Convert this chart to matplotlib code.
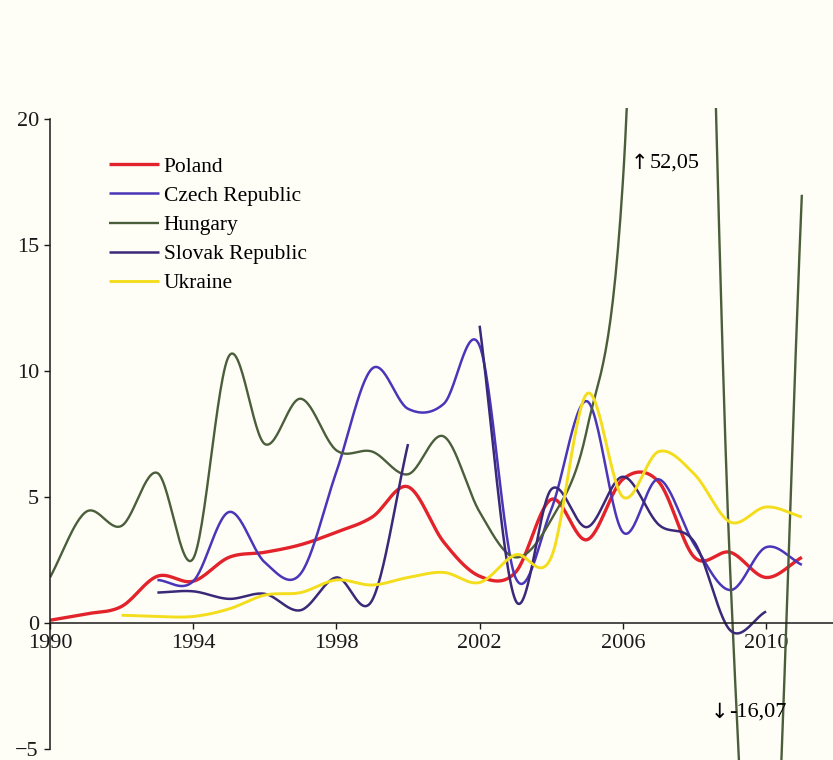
import matplotlib
matplotlib.use('Agg')
import matplotlib.pyplot as plt
import numpy as np

plt.rcParams['font.family'] = ['Liberation Serif', 'DejaVu Serif']

years = np.arange(1990, 2012)
nan = np.nan

# FDI values (% of GDP)
poland = [0.1, 0.35, 0.65, 1.85, 1.65, 2.6, 2.8, 3.1, 3.6, 4.2, 5.4,
          3.2, 1.85, 2.0, 4.9, 3.3, 5.7, 5.6, 2.6, 2.8, 1.8, 2.6]
czech = [nan, nan, nan, 1.7, 1.65, 4.4, 2.4, 1.95, 6.0, 10.1, 8.5,
         8.7, 11.0, 1.8, 4.5, 8.8, 3.6, 5.7, 3.1, 1.3, 3.0, 2.3]
hungary = [1.8, 4.4, 3.85, 5.95, 2.55, 10.6, 7.1, 8.9, 6.85, 6.8, 5.9,
           7.4, 4.4, 2.6, 4.1, 7.7, 17.5, 52.05, 48.0, 2.0, -16.07, 17.0]
slovak = [nan, nan, nan, 1.2, 1.25, 0.95, 1.15, 0.5, 1.8, 0.9, 7.1,
          nan, 11.8, 0.9, 5.3, 3.8, 5.8, 3.9, 3.2, -0.3, 0.45, nan]
ukraine = [nan, nan, 0.3, 0.25, 0.25, 0.55, 1.1, 1.2, 1.7, 1.5, 1.8,
           2.0, 1.6, 2.7, 2.6, 9.1, 5.0, 6.8, 5.9, 4.0, 4.6, 4.2]

names = ['Poland', 'Czech Republic', 'Hungary', 'Slovak Republic', 'Ukraine']
colors = ['#e3232b', '#4a36b8', '#4b5e3b', '#3b2878', '#f3dd1c']
widths = [2.4, 1.8, 1.7, 1.8, 2.1]


def smooth(x, y, n=30):
    # Catmull-Rom curve through the yearly values, segment by segment
    x = np.asarray(x, float)
    y = np.asarray(y, float)
    ok = ~np.isnan(y)
    out_x, out_y = [], []
    i = 0
    while i < len(y):
        if not ok[i]:
            i += 1
            continue
        j = i
        while j < len(y) and ok[j]:
            j += 1
        px, py = x[i:j], y[i:j]
        if len(py) > 1:
            ext = np.concatenate([[2 * py[0] - py[1]], py, [2 * py[-1] - py[-2]]])
            m = (ext[2:] - ext[:-2]) / 2
            for k in range(len(py) - 1):
                t = np.linspace(0, 1, n)
                h00 = 2 * t**3 - 3 * t**2 + 1
                h10 = t**3 - 2 * t**2 + t
                h01 = -2 * t**3 + 3 * t**2
                h11 = t**3 - t**2
                out_x.extend(px[k] + t * (px[k + 1] - px[k]))
                out_y.extend(h00 * py[k] + h10 * m[k] + h01 * py[k + 1] + h11 * m[k + 1])
        out_x.append(np.nan)
        out_y.append(np.nan)
        i = j
    return np.array(out_x), np.array(out_y)


fig = plt.figure(figsize=(8.33, 7.6), dpi=100)
fig.patch.set_facecolor('#fefef7')
ax = fig.add_axes([0.06, 0.0, 0.94, 0.858])
ax.set_facecolor('none')

for name, vals, c, lw in zip(names, [poland, czech, hungary, slovak, ukraine], colors, widths):
    sx, sy = smooth(years, vals)
    ax.plot(sx, sy, color=c, lw=lw, label=name, solid_capstyle='butt')

ax.set_xlim(1990, 2011.87)
ax.set_ylim(-5.45, 20.45)

ax.spines['top'].set_visible(False)
ax.spines['right'].set_visible(False)
ax.spines['left'].set_position(('data', 1990))
ax.spines['left'].set_bounds(-5, 20)
ax.spines['bottom'].set_position(('data', 0))
for s in ['left', 'bottom']:
    ax.spines[s].set_linewidth(1.1)
    ax.spines[s].set_color('#1a1a1a')

ax.set_xticks([1990, 1994, 1998, 2002, 2006, 2010])
ax.set_yticks([-5, 0, 5, 10, 15, 20])
ax.tick_params(direction='out', length=4, width=1, colors='#1a1a1a', labelsize=16)
ax.tick_params(axis='y', pad=4)
ax.tick_params(axis='x', pad=4)

# off-scale values for Hungary
ax.annotate('\u2191', (2006.22, 18.27), fontsize=15, va='center', ha='left',
            family=['DejaVu Sans'])
ax.annotate('52,05', (2006.22, 18.27), xytext=(13.5, 0), textcoords='offset points',
            fontsize=16, va='center', ha='left')
ax.annotate('\u2193', (2008.45, -3.54), fontsize=15, va='center', ha='left',
            family=['DejaVu Sans'])
ax.annotate('-16,07', (2008.45, -3.54), xytext=(13.5, 0), textcoords='offset points',
            fontsize=16, va='center', ha='left')

leg = ax.legend(loc='upper left', bbox_to_anchor=(0.075, 0.925), frameon=False,
                fontsize=15.5, handlelength=2.35, handletextpad=0.2,
                labelspacing=0.42, borderpad=0, borderaxespad=0)

fig.savefig('out.png', dpi=100, facecolor=fig.get_facecolor())
